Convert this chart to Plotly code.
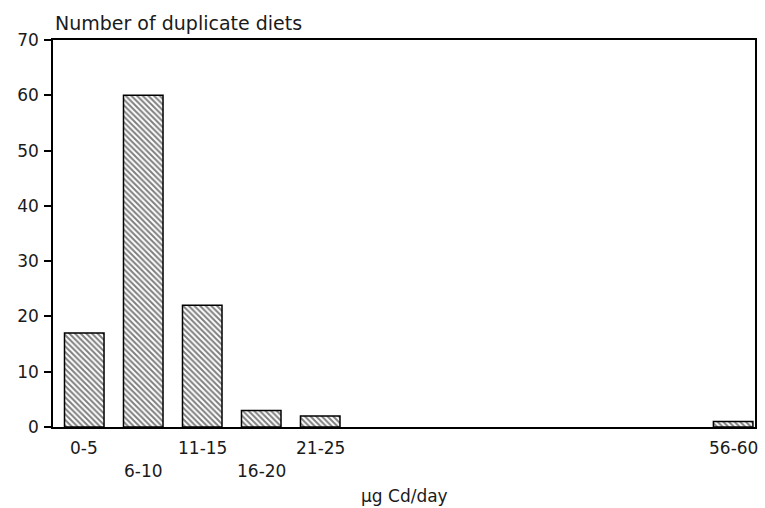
import plotly.graph_objects as go

bins = ["0-5", "6-10", "11-15", "16-20", "21-25", "26-30", "31-35",
        "36-40", "41-45", "46-50", "51-55", "56-60"]
counts = [17, 60, 22, 3, 2, None, None, None, None, None, None, 1]
label_bins = ["0-5", "6-10", "11-15", "16-20", "21-25", "56-60"]
label_rows = [1, 2, 1, 2, 1, 1]
y_ticks = [0, 10, 20, 30, 40, 50, 60, 70]

FONT = "DejaVu Sans"
TXT = "#1a1a1a"

fig = go.Figure()
fig.add_trace(go.Bar(
    x=bins, y=counts,
    marker=dict(color="white",
                line=dict(color="black", width=1.5),
                pattern=dict(shape="\\", fgcolor="black", bgcolor="white",
                             size=4, solidity=0.5)),
    width=0.67,
))

for lab, row in zip(label_bins, label_rows):
    fig.add_annotation(x=lab, y=0, xref="x", yref="paper", text=lab,
                       showarrow=False, yanchor="middle",
                       yshift=-21 if row == 1 else -44,
                       font=dict(family=FONT, size=17, color=TXT))

fig.add_annotation(x=0, y=1, xref="paper", yref="paper", xanchor="left",
                   yanchor="bottom", yshift=4, text="Number of duplicate diets",
                   showarrow=False, font=dict(family=FONT, size=19, color=TXT))
fig.add_annotation(x=0.5, y=0, xref="paper", yref="paper", xanchor="center",
                   yanchor="middle", yshift=-69, text="µg Cd/day",
                   showarrow=False, font=dict(family=FONT, size=17, color=TXT))

fig.update_layout(
    width=765, height=508,
    margin=dict(l=53, r=8, t=40, b=81),
    paper_bgcolor="white", plot_bgcolor="white",
    showlegend=False,
    font=dict(family=FONT, size=17, color=TXT),
    xaxis=dict(type="category", range=[-0.53, 11.37], showticklabels=False,
               ticks="", showline=True, linecolor="black", linewidth=1.5,
               mirror=True, showgrid=False, zeroline=False),
    yaxis=dict(range=[0, 70], tickvals=y_ticks, ticks="outside", ticklen=7,
               tickwidth=1.5, tickcolor="black", showline=True, linecolor="black",
               linewidth=1.5, mirror=True, showgrid=False, zeroline=False,
               ticklabelstandoff=2),
)

fig.write_html("out.html")
